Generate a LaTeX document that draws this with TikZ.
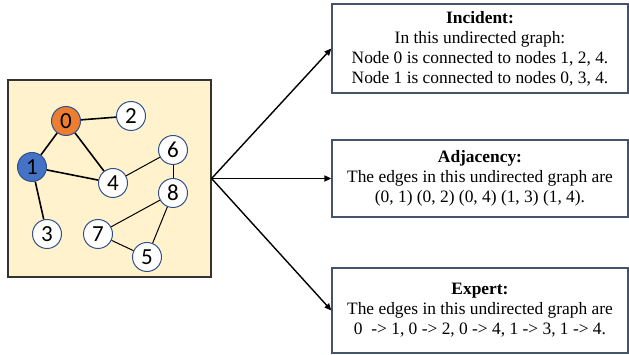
\documentclass[tikz,border=0pt]{standalone}
\usepackage{fontspec}
\setmainfont{Liberation Serif}
\newfontfamily\labelfont{Carlito}
\usetikzlibrary{arrows.meta}

\definecolor{panelfill}{HTML}{FFF2CC}
\definecolor{nodeline}{HTML}{2F528F}
\definecolor{orangenode}{HTML}{ED7D31}
\definecolor{bluenode}{HTML}{4472C4}
\definecolor{boxline}{HTML}{44546A}

\begin{document}
\begin{tikzpicture}[x=1pt,y=-1pt]
        \useasboundingbox (0,0) rectangle (629,355);

        % graph panel
        \node[draw=black!80, line width=1.2pt, fill=panelfill, minimum width=203pt,
              minimum height=197pt, inner sep=0pt] (panel) at (109.5,178.5) {};

        \begin{scope}[every node/.style={circle, draw=nodeline, line width=1pt, fill=white,
                      minimum size=29pt, inner sep=0pt, font=\labelfont\fontsize{23}{23}\selectfont}]
          \node[fill=orangenode] (0) at (66,121)  {0};
          \node[fill=bluenode]   (1) at (32,167)  {1};
          \node (2) at (131,116) {2};
          \node (3) at (47,234)  {3};
          \node (4) at (113,183) {4};
          \node (5) at (147,257) {5};
          \node (6) at (173,150) {6};
          \node (7) at (98,234)  {7};
          \node (8) at (173,193) {8};
        \end{scope}

        \begin{scope}[every edge/.style={draw, line width=1.6pt}]
          \path (0) edge (2);
          \path (0) edge (1);
          \path (0) edge (4);
          \path (1) edge (4);
          \path (1) edge (3);
        \end{scope}
        \begin{scope}[every edge/.style={draw, line width=1pt}]
          \path (4) edge (6);
          \path (6) edge (8);
          \path (8) edge (7);
          \path (8) edge (5);
          \path (7) edge (5);
        \end{scope}

        % prompt boxes
        \begin{scope}[every node/.style={draw=boxline, line width=1.2pt, fill=white,
                      minimum width=296pt, inner sep=0pt, align=center,
                      font=\fontsize{17.4}{20}\selectfont}]
          \node[minimum height=89pt] (inc) at (480,48.5)
            {\textbf{Incident:}\\In this undirected graph:\\Node 0 is connected to nodes 1, 2, 4.\\Node 1 is connected to nodes 0, 3, 4.};
          \node[minimum height=77pt] (adj) at (480,178.5)
            {\textbf{Adjacency:}\\The edges in this undirected graph are\\(0, 1) (0, 2) (0, 4) (1, 3) (1, 4).};
          \node[minimum height=85pt] (exp) at (480,310.5)
            {\textbf{Expert:}\\The edges in this undirected graph are\\0 \ -> 1, 0 -> 2, 0 -> 4, 1 -> 3, 1 -> 4.};
        \end{scope}

        \begin{scope}[every edge/.style={draw, line width=1.4pt, -{Triangle[length=7pt,width=6pt]}}]
          \path (panel.east) edge (inc.west);
          \path (panel.east) edge (adj.west);
          \path (panel.east) edge (exp.west);
        \end{scope}

      \end{tikzpicture}
\end{document}
